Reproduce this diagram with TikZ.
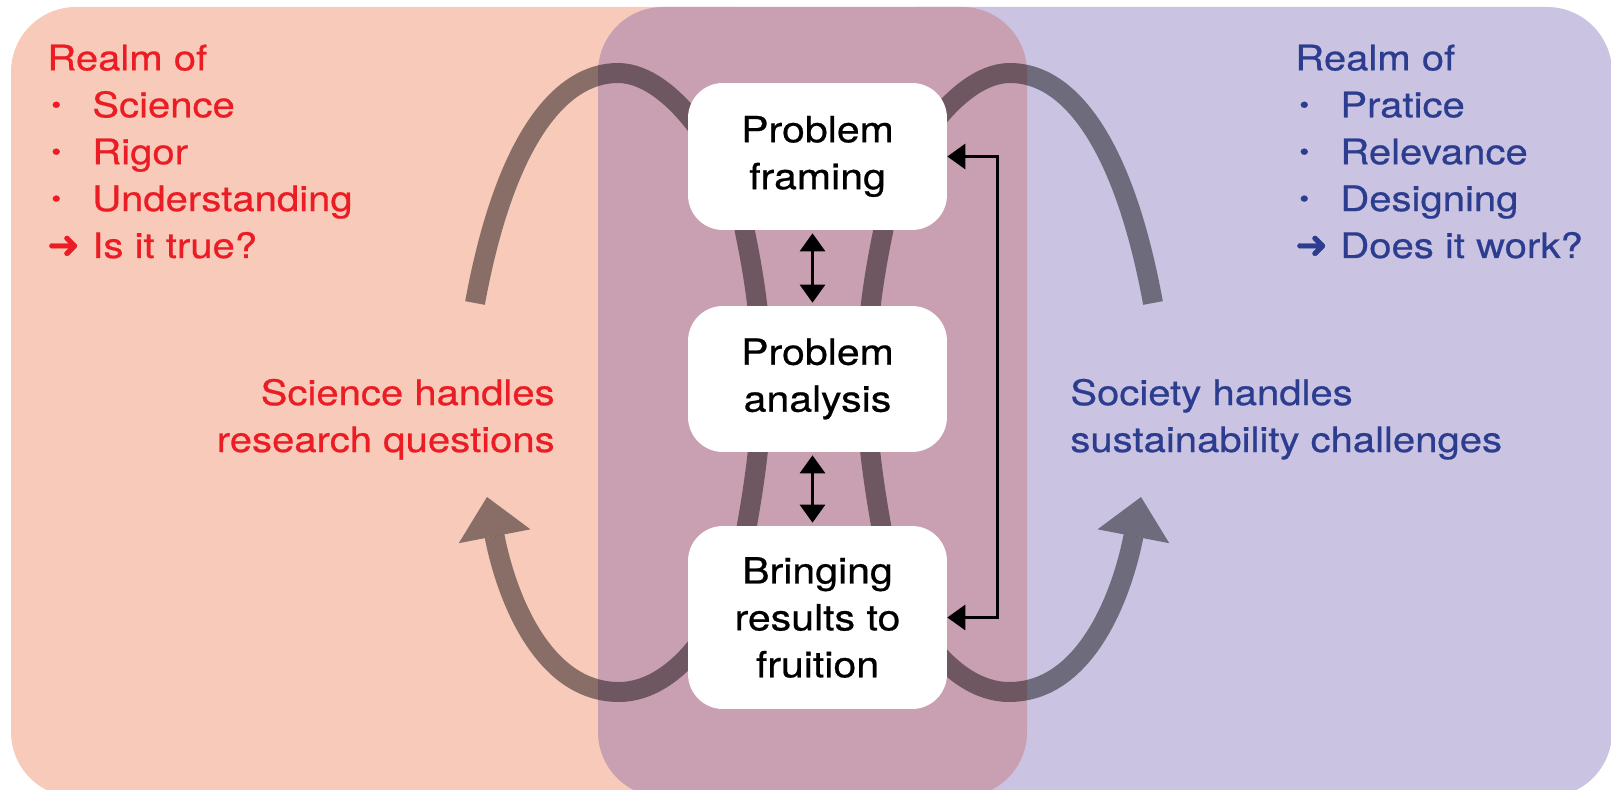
\documentclass[tikz,border=0pt]{standalone}
\usepackage{fontspec}
\setmainfont{TeX Gyre Heros}[FakeStretch=1.14, FakeBold=0.6]
\newfontfamily\arrowfont{DejaVu Sans}[FakeBold=1]
\usetikzlibrary{arrows.meta}

\definecolor{sciencebg}{HTML}{F8CABA}
\definecolor{overlapbg}{HTML}{C9A0B2}
\definecolor{societybg}{HTML}{CAC4E2}
\definecolor{sciencered}{HTML}{EB1C24}
\definecolor{societyblue}{HTML}{2C3D8F}

\pgfdeclarelayer{back}
\pgfdeclarelayer{loops}
\pgfsetlayers{back,loops,main}

\newcommand{\realmbul}{\makebox[0.9cm][l]{\hspace{0.08cm}\raisebox{0.08cm}{\fontsize{14}{14}\selectfont •}}}
\newcommand{\realmarr}{\makebox[0.9cm][l]{\arrowfont\fontsize{22}{22}\selectfont ➜}}

\begin{document}
\begin{tikzpicture}[x=0.02cm, y=-0.02cm,
  realm/.style={rounded corners=1.3cm},
  stage/.style={fill=white, rounded corners=0.7cm, minimum width=5.18cm, align=center, inner sep=0pt, font=\fontsize{20.5}{26.7}\selectfont},
  handtext/.style={inner sep=0pt, font=\fontsize{20}{26.7}\selectfont},
  loop/.style={line width=0.4cm, opacity=0.45, -{Triangle[width=1.46cm,length=0.8cm,line width=0pt]}},
  link/.style={line width=0.06cm, {Triangle[width=0.5cm,length=0.36cm]}-{Triangle[width=0.5cm,length=0.36cm]}}]

\useasboundingbox (0,0) rectangle (1611,790);

\begin{pgfonlayer}{back}

\fill[sciencebg, realm] (11,7) rectangle (800,797);

\fill[societybg, realm] (850,7) rectangle (1612,797);

\fill[overlapbg, realm] (598,7) rectangle (1027,797);

\end{pgfonlayer}

\node[stage, minimum height=2.94cm] (frame) at (817.5,156.5) {Problem\\framing};

\node[stage, minimum height=2.92cm] (analysis) at (817.5,379) {Problem\\analysis};

\node[stage, minimum height=3.66cm] (bring) at (817.5,617.5) {Bringing\\results to\\fruition};

\draw[link, shorten >=0.06cm, shorten <=0.06cm] ([xshift=-0.1cm]frame.south) -- ([xshift=-0.1cm]analysis.north);

\draw[link, shorten >=0.06cm, shorten <=0.06cm] ([xshift=-0.1cm]analysis.south) -- ([xshift=-0.1cm]bring.north);

\draw[link] (frame.east) -- ++(50,0) |- (bring.east);

\coordinate (scienceout) at (475,303);

\coordinate (sciencein) at (487,497);

\coordinate (societyout) at (1153,303);

\coordinate (societyin) at (1141,497);

\begin{pgfonlayer}{loops}

\draw[loop] (scienceout) .. controls (505,140) and (560,73) .. (618,73) .. controls (675,73) and (735,170) .. (745,232) .. controls (755,280) and (762,330) .. (762,380) .. controls (762,430) and (755,480) .. (747,525) .. controls (735,610) and (680,692) .. (619,692) .. controls (540,692) and (505,590) .. (sciencein);

\draw[loop] (societyout) .. controls (1123,140) and (1068,73) .. (1010,73) .. controls (953,73) and (893,170) .. (883,232) .. controls (873,280) and (866,330) .. (866,380) .. controls (866,430) and (873,480) .. (881,525) .. controls (893,610) and (948,692) .. (1009,692) .. controls (1088,692) and (1123,590) .. (societyin);

\end{pgfonlayer}

\node[handtext, sciencered, anchor=base west, align=left] (sciencerealm) at (47,258) {Realm of\\\realmbul Science\\\realmbul Rigor\\\realmbul Understanding\\\realmarr Is it true?};

\node[handtext, sciencered, anchor=base east, align=right] (sciencehandles) at (555,452) {Science handles\\research questions};

\node[handtext, societyblue, anchor=base west, align=left] (societyhandles) at (1070,452) {Society handles\\sustainability challenges};

\node[handtext, societyblue, anchor=base west, align=left] (societyrealm) at (1295,258) {Realm of\\\realmbul Pratice\\\realmbul Relevance\\\realmbul Designing\\\realmarr Does it work?};

\end{tikzpicture}
\end{document}
